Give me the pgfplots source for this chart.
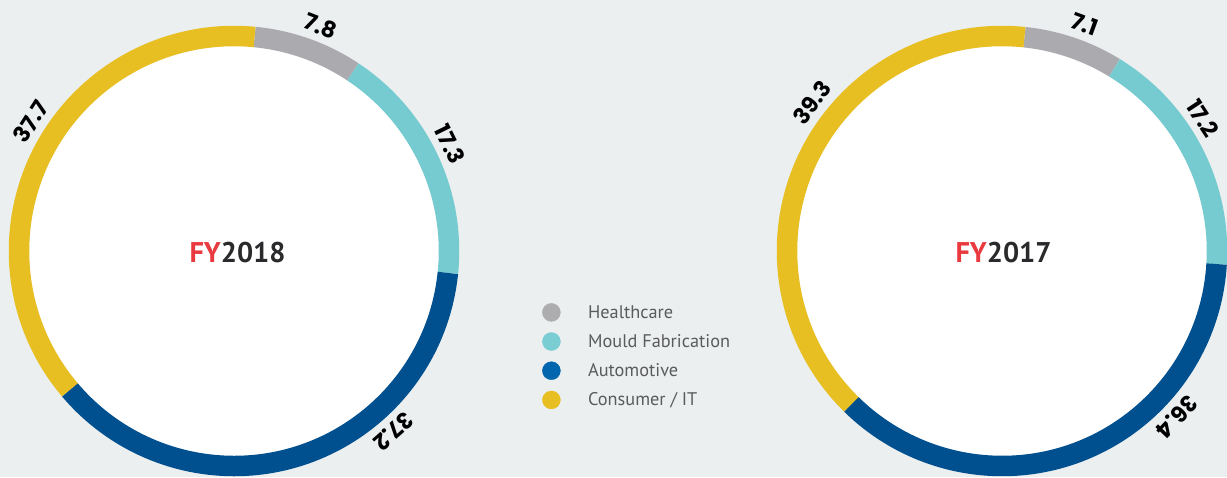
\documentclass[border=0pt]{standalone}
\usepackage{fontspec}
\usepackage{pgfplots}
\usepackage{pgfplotstable}
\pgfplotsset{compat=1.18}
\newfontfamily\labfont{Poppins}
\newfontfamily\ptfont{PT Sans}
\definecolor{bgcol}{HTML}{EBEFF0}
\definecolor{c0}{HTML}{ABABAF}
\definecolor{c1}{HTML}{76CBD1}
\definecolor{c2}{HTML}{00508F}
\definecolor{c3}{HTML}{E8BF22}
\definecolor{l0}{HTML}{ADADB0}
\definecolor{l1}{HTML}{7ACDD2}
\definecolor{l2}{HTML}{0166AD}
\definecolor{l3}{HTML}{E8BF23}
\definecolor{fyred}{HTML}{E93A3F}
\definecolor{yeardark}{HTML}{2A2A2C}
\definecolor{legtext}{HTML}{5B5B5D}

% value = share in %, labang = label position (degrees clockwise from top)
\pgfplotstableread{
name value labang
Healthcare 7.8 21
Mould 17.3 63.7
Automotive 37.2 138.5
Consumer 37.7 302.5
}\fyA
\pgfplotstableread{
name value labang
Healthcare 7.1 20
Mould 17.2 56.5
Automotive 36.4 133.5
Consumer 39.3 308
}\fyB

\tikzset{seglab/.style={font=\labfont\bfseries\fontsize{22.5}{24}\selectfont, text=black, inner sep=0pt}}

\newcommand\ring[2]{%
  \xdef\acc{#2}%
  \pgfplotsinvokeforeach{0,...,3}{%
    \pgfplotstablegetelem{##1}{value}\of#1\relax
    \let\vv\pgfplotsretval
    \pgfmathsetmacro\sa{90-\acc}%
    \pgfmathsetmacro\ea{90-\acc-3.6*\vv}%
    \pgfmathsetmacro\newacc{\acc+3.6*\vv}%
    \xdef\acc{\newacc}%
    \pgfplotstablegetelem{##1}{labang}\of#1\relax
    \pgfmathsetmacro\lp{90-\pgfplotsretval}%
    \pgfmathsetmacro\lr{-\pgfplotsretval}%
    \edef\tmp{%
      \noexpand\draw[line width=20.5pt, color=c##1] (axis cs:0,0) ++(\sa:215pt) arc[start angle=\sa, end angle=\ea, radius=215pt];
      \noexpand\path (axis cs:0,0) ++(\lp:241pt) node[seglab, rotate=\lr] {\vv};
    }%
    \tmp
  }}

\begin{document}
\begin{tikzpicture}
\fill[bgcol] (0,0) rectangle (1227pt,477pt);
\path[use as bounding box] (0,0) rectangle (1227pt,477pt);
\clip (0,0) rectangle (1227pt,477pt);

\begin{axis}[
  hide axis, clip=false,
  x=1pt, y=1pt,
  xmin=-250, xmax=250, ymin=-250, ymax=250,
  anchor=center, at={(234pt,226pt)},
  legend cell align=left,
  legend style={at={(1.116,0.396)}, anchor=north west, draw=none, fill=none,
    inner sep=0pt, row sep=10.7pt,
    font=\ptfont\fontsize{18.3}{20}\selectfont, text=legtext,
    /tikz/every odd column/.append style={column sep=25.5pt}},
]
\fill[white] (axis cs:0,0) circle[radius=205pt];
\ring{\fyA}{5.5}
\node[font=\ptfont\bfseries\fontsize{28.5}{30}\selectfont, anchor=center] at (axis cs:3.5,-1.5)
  {\textcolor{fyred}{FY}\textcolor{yeardark}{2018}};
\addlegendimage{legend image code/.code={\fill[l0] (0pt,0pt) circle (9pt);}}
\addlegendentry{Healthcare}
\addlegendimage{legend image code/.code={\fill[l1] (0pt,0pt) circle (9pt);}}
\addlegendentry{Mould Fabrication}
\addlegendimage{legend image code/.code={\fill[l2] (0pt,0pt) circle (9pt);}}
\addlegendentry{Automotive}
\addlegendimage{legend image code/.code={\fill[l3] (0pt,0pt) circle (9pt);}}
\addlegendentry{Consumer / IT}
\end{axis}

\begin{axis}[
  hide axis, clip=false,
  x=1pt, y=1pt,
  xmin=-250, xmax=250, ymin=-250, ymax=250,
  anchor=center, at={(1002pt,226pt)},
]
\fill[white] (axis cs:0,0) circle[radius=205pt];
\ring{\fyB}{6}
\node[font=\ptfont\bfseries\fontsize{28.5}{30}\selectfont, anchor=center] at (axis cs:1.5,-1.5)
  {\textcolor{fyred}{FY}\textcolor{yeardark}{2017}};
\end{axis}
\end{tikzpicture}
\end{document}
